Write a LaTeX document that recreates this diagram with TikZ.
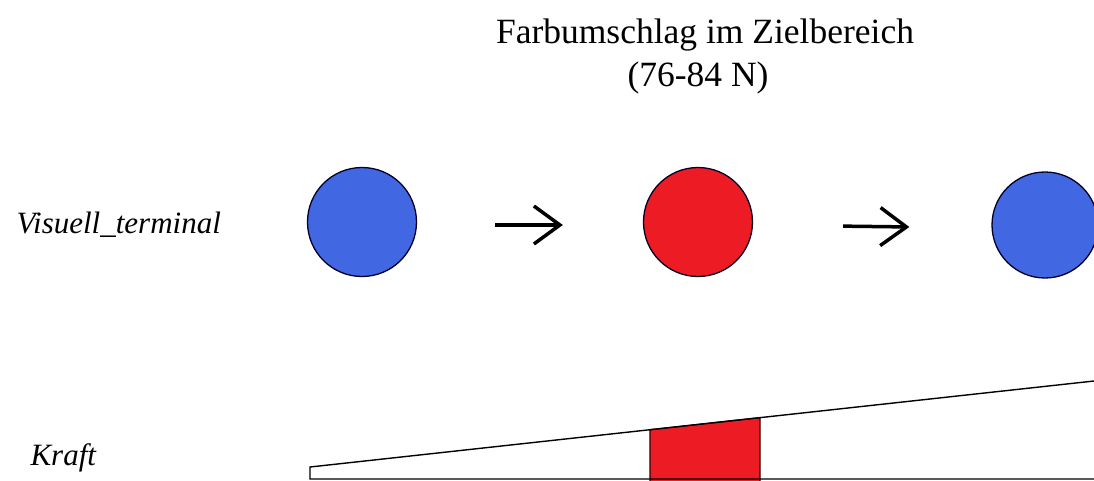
\documentclass[tikz,border=0pt]{standalone}
\usepackage{fontspec}
\setmainfont{Liberation Serif}
\usetikzlibrary{arrows.meta}
\definecolor{dotblue}{RGB}{66,103,226}
\definecolor{dotred}{RGB}{237,28,36}
\begin{document}
\begin{tikzpicture}[x=1pt,y=-1pt,
    dot/.style={circle,draw=black!85!blue,line width=1.3pt,inner sep=0pt,minimum size=109pt},
    step arrow/.style={line width=3.5pt,-{Straight Barb[length=26pt,width=38pt,line width=3.5pt]}},
    label/.style={font=\fontsize{31}{36}\selectfont\itshape,anchor=base west}]
        \clip (0,0) rectangle (1094,480);
        \fill[white] (0,0) rectangle (1094,480);
        \node[font=\fontsize{35.5}{40}\selectfont,anchor=base] (title) at (705,43) {Farbumschlag im Zielbereich};
        \node[font=\fontsize{35.5}{40}\selectfont,anchor=base] (range) at (698,86) {(76-84 N)};
        \node[label] (visual) at (13,233) {Visuell\_terminal};
        \node[label] (force) at (27,465) {Kraft};
        \node[dot,fill=dotblue] (c1) at (362,222) {};
        \node[dot,fill=dotred] (c2) at (698,222) {};
        \node[dot,fill=dotblue,minimum size=106pt] (c3) at (1045,225) {};
        \draw[step arrow,shorten <=78pt,shorten >=80pt] ([yshift=-3pt]c1.east) -- ([yshift=-3pt]c2.west);
        \draw[step arrow,shorten <=90pt,shorten >=82pt] ([yshift=-3pt]c2.east) -- ([yshift=-3pt]c3.west);
        \coordinate (w0) at (310,479);
        \coordinate (w1) at (310,467);
        \coordinate (w2) at (1094,381);
        \fill[dotred,draw=black!80!red,line width=1.2pt] (650,481) -- (650,429.7) -- (760,417.6) -- (760,481);
        \draw[line width=1.4pt] (1100,479) -- (w0) -- (w1) -- (w2);
    \end{tikzpicture}
\end{document}
